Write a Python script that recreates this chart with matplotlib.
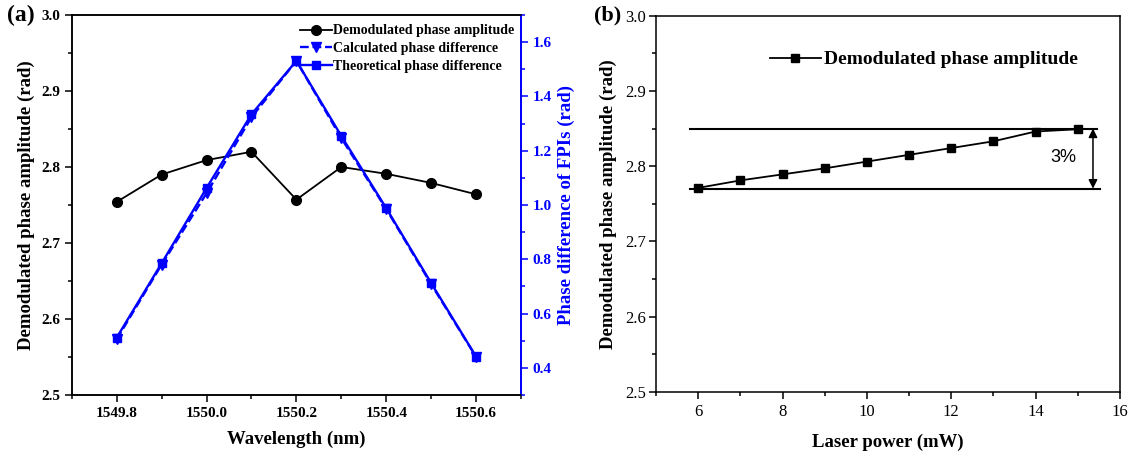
import matplotlib
matplotlib.use('Agg')
from matplotlib import pyplot as plt
from matplotlib.ticker import MultipleLocator

# Panel (a) data
wavelength = [1549.8, 1549.9, 1550.0, 1550.1, 1550.2, 1550.3, 1550.4, 1550.5, 1550.6]
amp_a = [2.754, 2.790, 2.809, 2.820, 2.757, 2.800, 2.791, 2.779, 2.764]
calc_diff = [0.505, 0.780, 1.043, 1.323, 1.531, 1.246, 0.985, 0.708, 0.440]
theo_diff = [0.511, 0.785, 1.062, 1.334, 1.531, 1.254, 0.988, 0.712, 0.441]

# Panel (b) data
power = [6, 7, 8, 9, 10, 11, 12, 13, 14, 15]
amp_b = [2.771, 2.781, 2.789, 2.797, 2.806, 2.815, 2.824, 2.833, 2.846, 2.849]
band_hi, band_lo = 2.85, 2.77

plt.rcParams['font.family'] = ['Liberation Serif', 'DejaVu Serif']
plt.rcParams['axes.linewidth'] = 1.1
BLUE = '#0000ff'

fig = plt.figure(figsize=(11.33, 4.55), dpi=100)

# ---------- (a) ----------
ax = fig.add_axes([0.0633, 0.1319, 0.3966, 0.8352])
ax2 = ax.twinx()

l1, = ax.plot(wavelength, amp_a, '-o', color='black', lw=1.3, ms=7,
              label='Demodulated phase amplitude')
l2, = ax2.plot(wavelength, calc_diff, '--v', color=BLUE, lw=1.7, ms=7.5,
               label='Calculated phase difference')
l3, = ax2.plot(wavelength, theo_diff, '-s', color=BLUE, lw=1.7, ms=6,
               label='Theoretical phase difference')

ax.set_xlim(1549.7, 1550.7)
ax.set_ylim(2.5, 3.0)
ax2.set_ylim(0.3, 1.7)
ax.xaxis.set_major_locator(MultipleLocator(0.2))
ax.xaxis.set_minor_locator(MultipleLocator(0.1))
ax.yaxis.set_major_locator(MultipleLocator(0.1))
ax.yaxis.set_minor_locator(MultipleLocator(0.05))
ax2.yaxis.set_major_locator(MultipleLocator(0.2))
ax2.yaxis.set_minor_locator(MultipleLocator(0.1))
ax.xaxis.set_major_formatter(plt.FormatStrFormatter('%.1f'))
ax.yaxis.set_major_formatter(plt.FormatStrFormatter('%.1f'))
ax2.yaxis.set_major_formatter(plt.FormatStrFormatter('%.1f'))

ax.tick_params(which='major', direction='out', length=5, width=1.1, labelsize=11)
ax.tick_params(which='minor', direction='out', length=3, width=1.1)
ax2.tick_params(which='major', direction='out', length=5, width=1.1, labelsize=11,
                colors=BLUE)
ax2.tick_params(which='minor', direction='out', length=3, width=1.1, colors=BLUE)
for lab in ax.get_xticklabels() + ax.get_yticklabels() + ax2.get_yticklabels():
    lab.set_fontweight('bold')
ax2.spines['right'].set_color(BLUE)
ax2.spines['right'].set_linewidth(1.4)

ax.set_xlabel('Wavelength (nm)', fontsize=13.5, fontweight='bold', labelpad=8)
ax.set_ylabel('Demodulated phase amplitude (rad)', fontsize=13.5,
              fontweight='bold', labelpad=4)
ax2.set_ylabel('Phase difference of FPIs (rad)', fontsize=13.5,
               fontweight='bold', color=BLUE, labelpad=4)

leg = ax.legend(handles=[l1, l2, l3], loc='upper right',
                bbox_to_anchor=(0.985, 0.975), frameon=False, borderpad=0,
                borderaxespad=0, labelspacing=0.35, handlelength=2.3,
                handletextpad=0.1, prop={'weight': 'bold', 'size': 10})

fig.text(0.006, 0.965, '(a)', fontsize=17, fontweight='bold', va='center')

# ---------- (b) ----------
bx = fig.add_axes([0.579, 0.1391, 0.4095, 0.8264])
lb, = bx.plot(power, amp_b, '-s', color='black', lw=1.3, ms=5.5,
              label='Demodulated phase amplitude')
bx.plot([5.8, 15.45], [band_hi, band_hi], color='black', lw=1.5)
bx.plot([5.8, 15.53], [band_lo, band_lo], color='black', lw=1.5)
bx.annotate('', xy=(15.36, band_lo), xytext=(15.36, band_hi),
            arrowprops=dict(arrowstyle='<|-|>', color='black', lw=1.1,
                            mutation_scale=13, shrinkA=0, shrinkB=0))
bx.text(14.65, (band_hi + band_lo) / 2 + 0.002, '3%', fontsize=13, ha='center',
        va='center', family=['Liberation Sans', 'DejaVu Sans'])

bx.set_xlim(5, 16)
bx.set_ylim(2.5, 3.0)
bx.xaxis.set_major_locator(MultipleLocator(2))
bx.xaxis.set_minor_locator(MultipleLocator(1))
bx.yaxis.set_major_locator(MultipleLocator(0.1))
bx.yaxis.set_minor_locator(MultipleLocator(0.05))
bx.yaxis.set_major_formatter(plt.FormatStrFormatter('%.1f'))
bx.tick_params(axis='y', which='major', direction='out', length=5, width=1.1,
               labelsize=12, pad=2)
bx.tick_params(axis='x', which='major', direction='out', length=5, width=1.1,
               labelsize=12, pad=4)
bx.tick_params(which='minor', direction='out', length=3, width=1.1)

bx.set_xlabel('Laser power (mW)', fontsize=13.5, fontweight='bold', labelpad=10)
bx.set_ylabel('Demodulated phase amplitude (rad)', fontsize=13.5,
              fontweight='bold', labelpad=6)

bx.legend(handles=[lb], loc='center left', bbox_to_anchor=(0.246, 0.883),
          frameon=False, borderpad=0, borderaxespad=0, handlelength=2.6,
          handletextpad=0.15, prop={'weight': 'bold', 'size': 14})

fig.text(0.524, 0.965, '(b)', fontsize=16, fontweight='bold', va='center')

fig.savefig('out.png', dpi=100)
